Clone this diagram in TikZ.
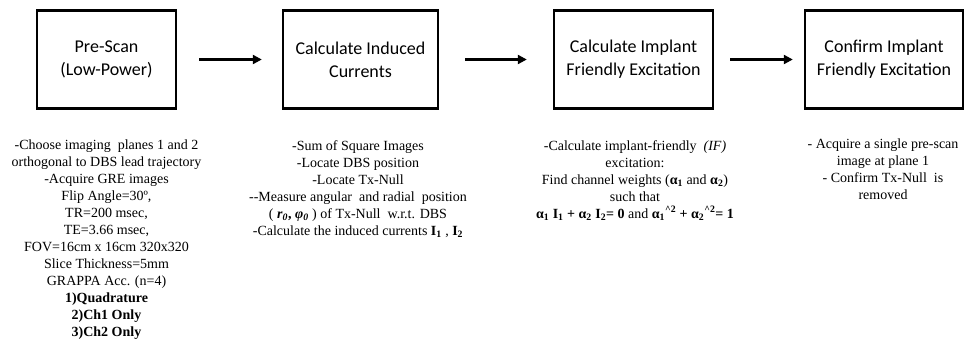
\documentclass[tikz,border=0pt]{standalone}
\usepackage{fontspec}
\setmainfont{Liberation Serif}
\newfontfamily\boxfont{Carlito}
\usetikzlibrary{arrows.meta}
% bold symbol with bold subscript
\newcommand\bsub[2]{\textbf{#1}\textsubscript{\textbf{#2}}}
\newcommand\bisub[2]{\textbf{\textit{#1}}\textsubscript{\textbf{\textit{#2}}}}
\begin{document}
\begin{tikzpicture}[x=1pt,y=-1pt,
  stepbox/.style={draw, line width=2.4pt, minimum height=98pt, inner sep=0pt,
    align=center, font=\boxfont\fontsize{18}{23}\selectfont},
  notes/.style={anchor=north, align=center, inner sep=0pt,
    font=\fontsize{14}{17}\selectfont},
  flow/.style={line width=2.2pt, -{Triangle[length=9pt,width=9pt]}}]
  \useasboundingbox (0,0) rectangle (967,348);

  % process steps
  \node[stepbox, minimum width=139pt] (s1) at (106.5,59.5) {Pre-Scan\\(Low-Power)};
  \node[stepbox, minimum width=155pt] (s2) at (360.5,59.5) {Calculate Induced\\Currents};
  \node[stepbox, minimum width=159pt] (s3) at (633.5,59.5) {Calculate Implant\\Friendly Excitation};
  \node[stepbox, minimum width=158pt] (s4) at (884,59.5) {Confirm Implant\\Friendly Excitation};

  % flow between steps
  \draw[flow, shorten <=22pt, shorten >=20pt] (s1) -- (s2);
  \draw[flow, shorten <=26pt, shorten >=26pt] (s2) -- (s3);
  \draw[flow, shorten <=16pt, shorten >=11pt] (s3) -- (s4);

  % details under each step
  \node[notes] (n1) at (106.5,140) {-Choose imaging~ planes 1 and 2\\
    orthogonal to DBS lead trajectory\\
    -Acquire GRE images\\
    Flip Angle=30º,\\
    TR=200 msec,\\
    TE=3.66 msec,\\
    FOV=16cm x 16cm 320x320\\
    Slice Thickness=5mm\\
    GRAPPA Acc. (n=4)\\
    \textbf{1)Quadrature}\\
    \textbf{2)Ch1 Only}\\
    \textbf{3)Ch2 Only}};

  \node[notes] (n2) at (358,140) {-Sum of Square Images\\
    -Locate DBS position\\
    -Locate Tx-Null\\
    -{}-Measure angular~ and radial~ position\\
    ( \bisub{r}{0}\textbf{,} \bisub{φ}{0} ) of Tx-Null~ w.r.t. DBS\\
    -Calculate the induced currents \bsub{I}{1} , \bsub{I}{2}};

  \node[notes] (n3) at (635,140) {-Calculate implant-friendly~ \textit{(IF)}\\
    excitation:\\
    Find channel weights (\bsub{α}{1} and \bsub{α}{2})\\
    such that\\
    \bsub{α}{1} \bsub{I}{1} \textbf{+} \bsub{α}{2} \bsub{I}{2}\textbf{= 0} and
    \bsub{α}{1}\textsuperscript{\textbf{\^{}2}} \textbf{+}
    \bsub{α}{2}\textsuperscript{\textbf{\^{}2}}\textbf{= 1}};

  \node[notes] (n4) at (883,138.5) {- Acquire a single pre-scan\\
    image at plane 1\\
    - Confirm Tx-Null~ is\\
    removed};
\end{tikzpicture}
\end{document}
